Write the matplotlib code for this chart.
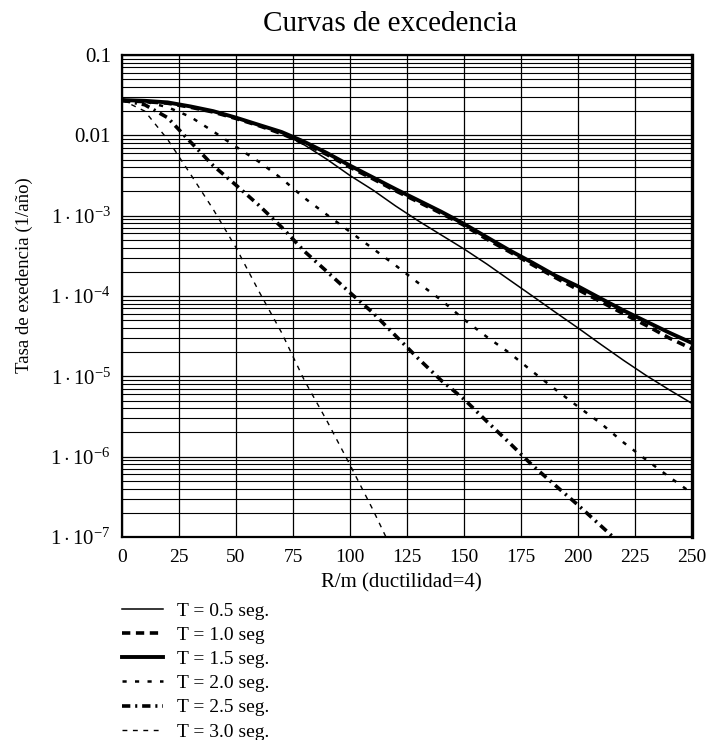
import matplotlib
matplotlib.use("Agg")
import matplotlib.pyplot as plt
from matplotlib.ticker import FixedLocator, FixedFormatter, LogLocator, NullFormatter

plt.rcParams['font.family'] = ['Liberation Serif', 'DejaVu Serif']
plt.rcParams['mathtext.fontset'] = 'custom'
plt.rcParams['mathtext.rm'] = 'Liberation Serif'
plt.rcParams['mathtext.it'] = 'Liberation Serif:italic'
plt.rcParams['lines.scale_dashes'] = False

rm = [0, 10, 20, 30, 40, 50, 60, 70, 80, 90, 100, 110, 120, 130, 140, 150,
      160, 170, 180, 190, 200, 210, 220, 230, 240, 250]
rm_25 = rm[:23]
rm_30 = rm[:13]

# exceedance rates (1/year)
tasa_05 = [2.75e-2, 2.69e-2, 2.57e-2, 2.29e-2, 2.0e-2, 1.66e-2, 1.35e-2, 1.07e-2, 7.6e-3,
           5.0e-3, 3.16e-3, 2.09e-3, 1.32e-3, 8.6e-4, 5.75e-4, 3.85e-4, 2.5e-4, 1.58e-4,
           1.0e-4, 6.3e-5, 4.0e-5, 2.5e-5, 1.58e-5, 1.02e-5, 6.8e-6, 4.6e-6]
tasa_10 = [2.69e-2, 2.63e-2, 2.51e-2, 2.24e-2, 1.95e-2, 1.62e-2, 1.32e-2, 1.05e-2, 7.9e-3,
           5.75e-3, 4.0e-3, 2.88e-3, 2.04e-3, 1.48e-3, 1.07e-3, 7.6e-4, 5.1e-4, 3.55e-4,
           2.45e-4, 1.70e-4, 1.20e-4, 8.5e-5, 6.0e-5, 4.3e-5, 3.0e-5, 2.2e-5]
tasa_15 = [2.75e-2, 2.69e-2, 2.57e-2, 2.29e-2, 2.0e-2, 1.66e-2, 1.35e-2, 1.10e-2, 8.3e-3,
           6.0e-3, 4.2e-3, 3.0e-3, 2.14e-3, 1.55e-3, 1.12e-3, 7.9e-4, 5.4e-4, 3.7e-4,
           2.6e-4, 1.8e-4, 1.32e-4, 9.3e-5, 6.6e-5, 4.8e-5, 3.5e-5, 2.6e-5]
tasa_20 = [2.75e-2, 2.63e-2, 2.24e-2, 1.70e-2, 1.12e-2, 7.2e-3, 4.7e-3, 2.9e-3, 1.66e-3,
           1.02e-3, 6.3e-4, 3.9e-4, 2.4e-4, 1.45e-4, 8.9e-5, 5.1e-5, 3.1e-5, 1.95e-5,
           1.15e-5, 6.9e-6, 4.2e-6, 2.6e-6, 1.5e-6, 9.1e-7, 5.6e-7, 3.5e-7]
tasa_25 = [2.75e-2, 2.4e-2, 1.66e-2, 8.3e-3, 4.2e-3, 2.4e-3, 1.35e-3, 7.2e-4, 3.6e-4,
           2.0e-4, 1.10e-4, 6.2e-5, 3.2e-5, 1.66e-5, 8.9e-6, 5.2e-6, 2.75e-6, 1.48e-6,
           7.8e-7, 4.4e-7, 2.5e-7, 1.38e-7, 7.6e-8]
tasa_30 = [2.75e-2, 2.0e-2, 8.9e-3, 3.3e-3, 1.2e-3, 4.0e-4, 1.15e-4, 3.5e-5, 8.9e-6,
           2.75e-6, 7.9e-7, 2.2e-7, 5.6e-8]

etiquetas = ['T = 0.5 seg.', 'T = 1.0 seg', 'T = 1.5 seg.',
             'T = 2.0 seg.', 'T = 2.5 seg.', 'T = 3.0 seg.']

xticks = [0, 25, 50, 75, 100, 125, 150, 175, 200, 225, 250]
yticks = [1e-1, 1e-2, 1e-3, 1e-4, 1e-5, 1e-6, 1e-7]
ytick_labels = ['0.1', '0.01', r'$1\cdot10^{-3}$', r'$1\cdot10^{-4}$',
                r'$1\cdot10^{-5}$', r'$1\cdot10^{-6}$', r'$1\cdot10^{-7}$']

fig = plt.figure(figsize=(7.1, 7.4), dpi=100)
ax = fig.add_axes([122 / 710, 1 - 537 / 740, 570 / 710, 482 / 740])

ax.plot(rm, tasa_05, color='black', lw=1.1, label=etiquetas[0])
ax.plot(rm, tasa_10, color='black', lw=2.6, dashes=(6, 4), label=etiquetas[1])
ax.plot(rm, tasa_15, color='black', lw=2.8, label=etiquetas[2])
ax.plot(rm, tasa_20, color='black', lw=1.8, dashes=(3, 6), label=etiquetas[3])
ax.plot(rm_25, tasa_25, color='black', lw=2.6, dashes=(6, 3.5, 1.5, 3.5), label=etiquetas[4])
ax.plot(rm_30, tasa_30, color='black', lw=1.0, dashes=(3.5, 4), label=etiquetas[5])

ax.set_yscale('log')
ax.set_xlim(0, 250)
ax.set_ylim(1e-7, 1e-1)

ax.xaxis.set_major_locator(FixedLocator(xticks))
ax.yaxis.set_major_locator(FixedLocator(yticks))
ax.yaxis.set_major_formatter(FixedFormatter(ytick_labels))
ax.yaxis.set_minor_locator(LogLocator(base=10, subs=range(2, 10), numticks=20))
ax.yaxis.set_minor_formatter(NullFormatter())
ax.tick_params(which='both', length=0)
ax.tick_params(axis='x', labelsize=14, pad=9)
ax.tick_params(axis='y', labelsize=15, pad=8)

ax.grid(True, which='major', axis='both', color='black', lw=0.9)
ax.grid(True, which='minor', axis='y', color='black', lw=0.8)
ax.set_axisbelow(True)
for s in ax.spines.values():
    s.set_linewidth(1.6)
ax.spines['right'].set_linewidth(2.4)

ax.set_title('Curvas de excedencia', fontsize=21, pad=17)
ax.title.set_x((390 - 122) / 570)
ax.set_xlabel('R/m (ductilidad=4)', fontsize=15, labelpad=7)
ax.xaxis.set_label_coords((401 - 122) / 570, -0.075)
ax.set_ylabel('Tasa de exedencia (1/año)', fontsize=13.5)
ax.yaxis.set_label_coords((33 - 122) / 570, (537 - 275) / 482)

ax.legend(loc='upper left', bbox_to_anchor=(122 / 710, 1 - 602 / 740),
          bbox_transform=fig.transFigure, frameon=False, fontsize=14,
          handlelength=2.1, handletextpad=0.75, labelspacing=0.34,
          borderpad=0, borderaxespad=0)

fig.savefig('out.png', dpi=100)
